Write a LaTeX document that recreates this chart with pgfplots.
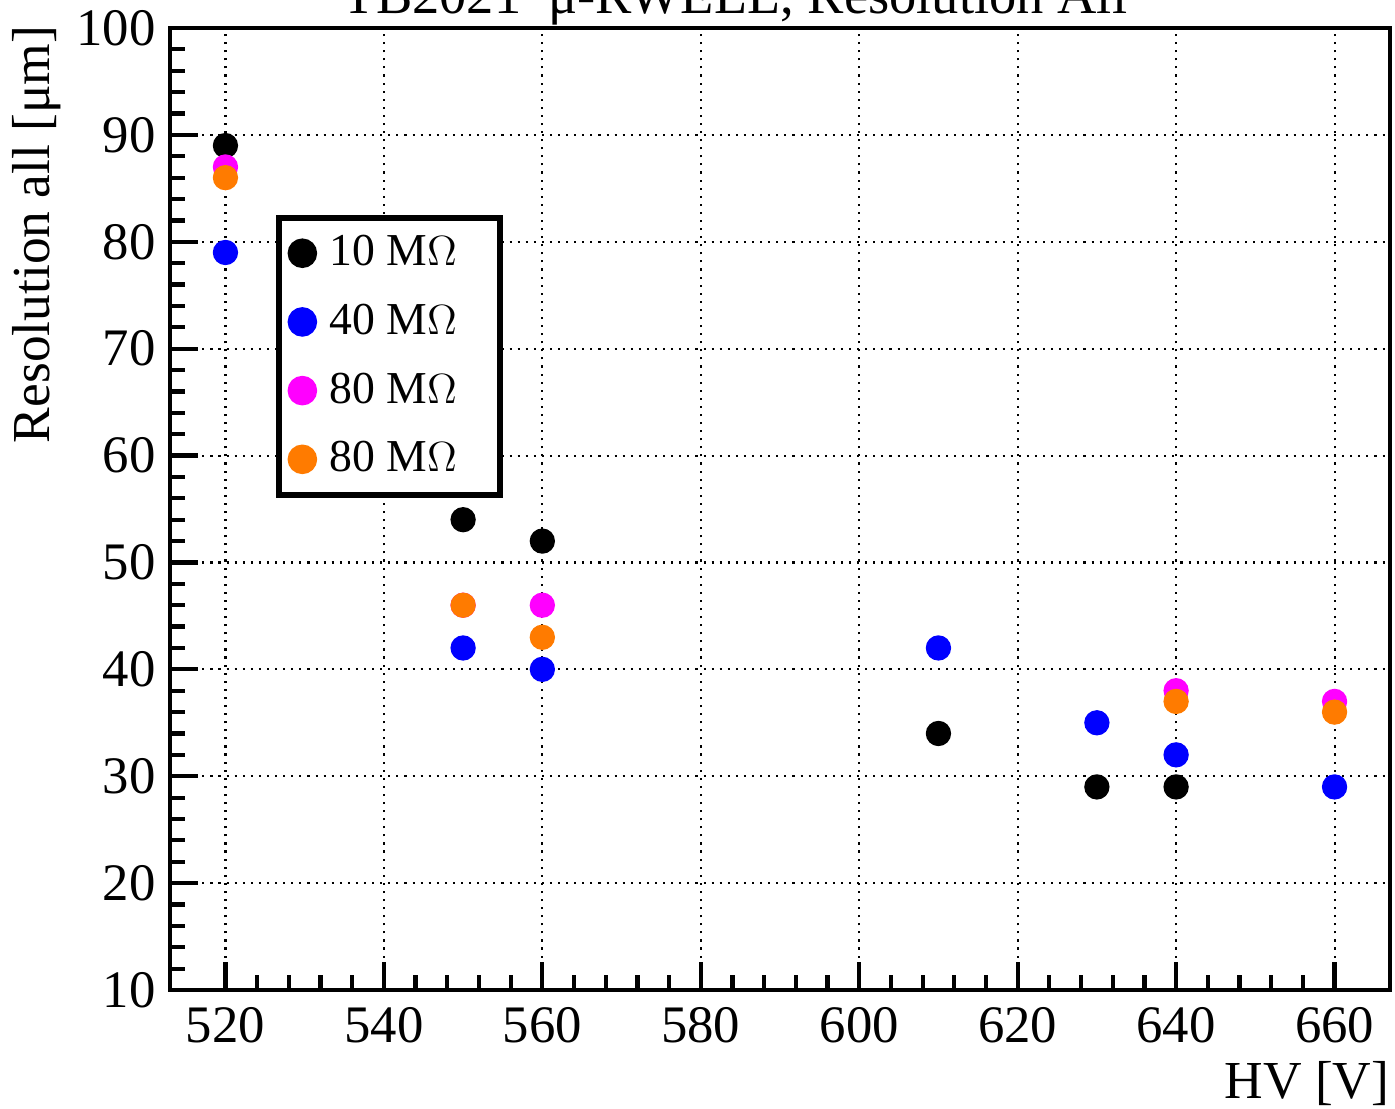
\documentclass[border=0pt]{standalone}
\usepackage{pgfplots}
\pgfplotsset{compat=1.18}
\usepackage{fontspec}
\setmainfont{Liberation Serif}

\definecolor{rootorange}{RGB}{255,123,0}
\definecolor{rootmagenta}{RGB}{255,0,255}
\definecolor{rootblue}{RGB}{0,0,255}

\begin{document}
\begin{tikzpicture}
\useasboundingbox (-1.70,-1.18) rectangle (12.25,9.90);
\begin{axis}[
    at={(0,0)}, anchor=south west,
    scale only axis,
    width=12.2cm, height=9.62cm,
    xmin=513.0, xmax=667.0,
    ymin=10, ymax=100,
    xtick={520,540,...,660},
    ytick={10,20,...,100},
    minor x tick num=4,
    minor y tick num=4,
    tick align=inside,
    xtick pos=bottom, ytick pos=left,
    major tick length=0.28cm,
    minor tick length=0.15cm,
    axis line style={line width=1.3pt},
    every tick/.style={black, line width=1.2pt},
    grid=major,
    major grid style={black, line width=0.6pt, dash pattern=on 0.6pt off 1.7pt},
    tick label style={font=\fontsize{15}{18}\selectfont},
    /pgf/number format/assume math mode=true,
    xticklabel style={yshift=-0.05cm},
    yticklabel style={xshift=-0.02cm},
    legend style={at={(rel axis cs:0.0869,0.8056)}, anchor=north west,
        draw=black, line width=1.6pt, font=\fontsize{13}{15}\selectfont,
        inner xsep=2.5pt, inner ysep=3pt, row sep=5.4pt, fill=white},
    legend cell align=left,
    legend image code/.code={\fill (0cm,0cm) circle (3.4pt); \path[draw=none, fill=none] (-3.4pt,0) rectangle (0.2cm,0);},
    clip=false,
]
\addplot[only marks, mark=*, mark size=3.4pt, black, mark options={draw=none, fill=black}] coordinates {
    (520,89) (550,54) (560,52) (610,34) (630,29) (640,29)
};
\addlegendentry{10 M$\Omega$\rule{0.27cm}{0pt}}
\addplot[only marks, mark=*, mark size=3.4pt, rootblue, mark options={draw=none, fill=rootblue}] coordinates {
    (520,79) (550,42) (560,40) (610,42) (630,35) (640,32) (660,29)
};
\addlegendentry{40 M$\Omega$\rule{0.27cm}{0pt}}
\addplot[only marks, mark=*, mark size=3.4pt, rootmagenta, mark options={draw=none, fill=rootmagenta}] coordinates {
    (520,87) (550,46) (560,46) (640,38) (660,37)
};
\addlegendentry{80 M$\Omega$\rule{0.27cm}{0pt}}
\addplot[only marks, mark=*, mark size=3.4pt, rootorange, mark options={draw=none, fill=rootorange}] coordinates {
    (520,86) (550,46) (560,43) (640,37) (660,36)
};
\addlegendentry{80 M$\Omega$\rule{0.27cm}{0pt}}
\end{axis}
\node[anchor=base, font=\fontsize{15.5}{18}\selectfont] at (5.65,9.76) {TB2021\ \ μ-RWELL, Resolution All};
\node[anchor=base east, inner sep=0pt, font=\fontsize{15.2}{18}\selectfont] at (12.20,-1.08) {HV [V]};
\node[rotate=90, anchor=north east, inner sep=0pt, font=\fontsize{15.2}{18}\selectfont] at (-1.58,9.65) {Resolution all [μm]};
\end{tikzpicture}
\end{document}
